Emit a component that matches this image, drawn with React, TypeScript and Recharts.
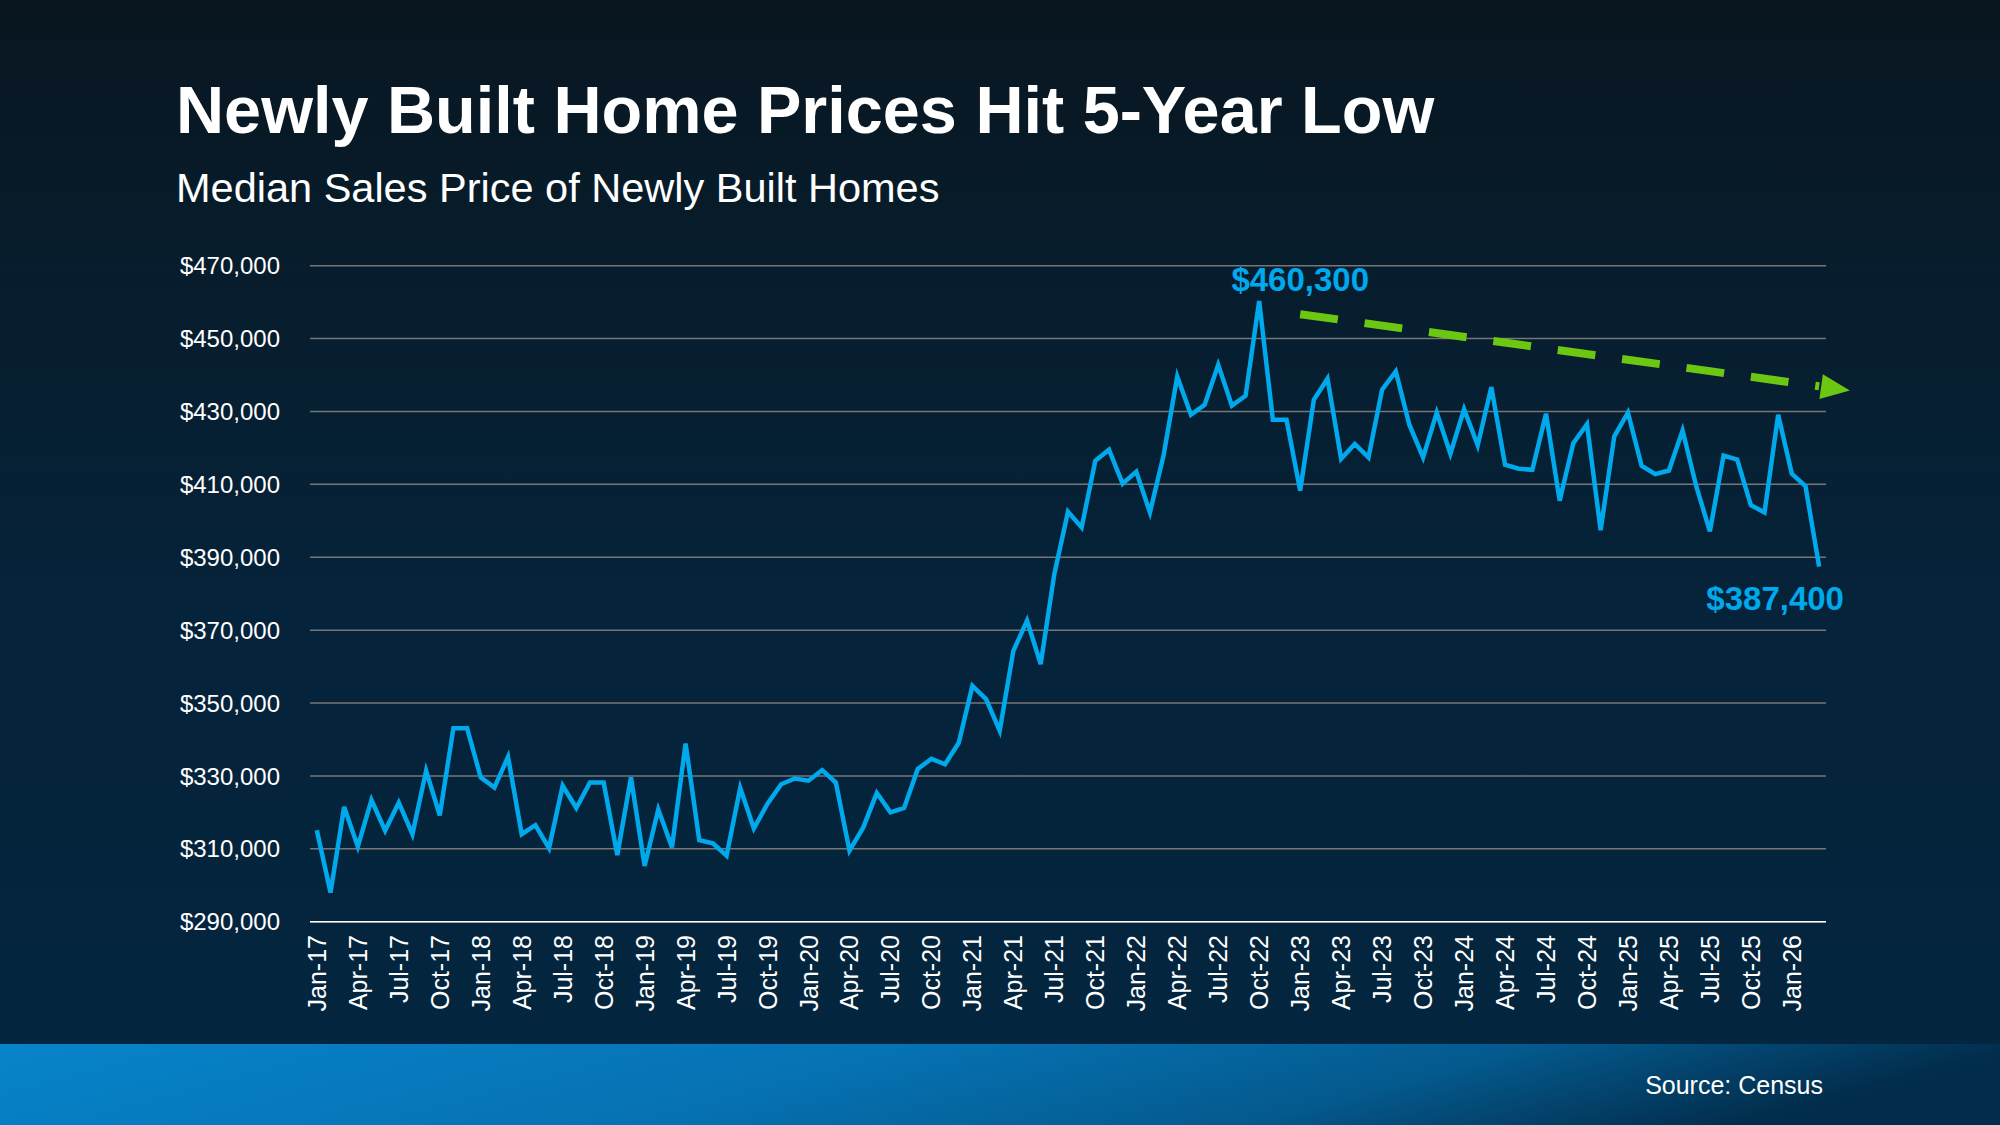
import React from 'react';
import { LineChart, Line, XAxis, YAxis, CartesianGrid, ReferenceDot, ReferenceLine } from 'recharts';

const months2017 = ['Jan-17','Feb-17','Mar-17','Apr-17','May-17','Jun-17','Jul-17','Aug-17','Sep-17','Oct-17','Nov-17','Dec-17'];
const months2018 = ['Jan-18','Feb-18','Mar-18','Apr-18','May-18','Jun-18','Jul-18','Aug-18','Sep-18','Oct-18','Nov-18','Dec-18'];
const months2019 = ['Jan-19','Feb-19','Mar-19','Apr-19','May-19','Jun-19','Jul-19','Aug-19','Sep-19','Oct-19','Nov-19','Dec-19'];
const months2020 = ['Jan-20','Feb-20','Mar-20','Apr-20','May-20','Jun-20','Jul-20','Aug-20','Sep-20','Oct-20','Nov-20','Dec-20'];
const months2021 = ['Jan-21','Feb-21','Mar-21','Apr-21','May-21','Jun-21','Jul-21','Aug-21','Sep-21','Oct-21','Nov-21','Dec-21'];
const months2022 = ['Jan-22','Feb-22','Mar-22','Apr-22','May-22','Jun-22','Jul-22','Aug-22','Sep-22','Oct-22','Nov-22','Dec-22'];
const months2023 = ['Jan-23','Feb-23','Mar-23','Apr-23','May-23','Jun-23','Jul-23','Aug-23','Sep-23','Oct-23','Nov-23','Dec-23'];
const months2024 = ['Jan-24','Feb-24','Mar-24','Apr-24','May-24','Jun-24','Jul-24','Aug-24','Sep-24','Oct-24','Nov-24','Dec-24'];
const months2025 = ['Jan-25','Feb-25','Mar-25','Apr-25','May-25','Jun-25','Jul-25','Aug-25','Sep-25','Oct-25','Nov-25','Dec-25'];
const months2026 = ['Jan-26','Feb-26','Mar-26'];

const prices2017 = [315100, 298000, 321500, 310600, 323400, 315000, 322700, 314000, 331400, 319200, 343100, 343100];
const prices2018 = [329600, 326800, 335200, 314000, 316500, 310200, 327300, 321200, 328200, 328200, 308300, 329600];
const prices2019 = [305300, 320800, 310400, 338900, 312400, 311500, 308100, 326700, 315600, 322400, 327700, 329300];
const prices2020 = [328700, 331600, 328200, 309500, 315800, 325300, 320000, 321200, 331900, 334700, 333200, 339100];
const prices2021 = [354700, 351100, 342400, 364300, 372600, 360700, 385400, 402500, 398200, 416500, 419500, 410200];
const prices2022 = [413500, 402300, 418000, 439600, 429100, 431800, 442800, 431600, 434300, 460300, 427700, 427700];
const prices2023 = [408300, 433200, 439000, 417000, 421100, 417400, 436000, 441000, 426300, 417400, 429700, 418400];
const prices2024 = [430600, 420700, 436700, 415400, 414300, 414000, 429400, 405500, 421300, 426500, 397400, 423200];
const prices2025 = [429700, 415100, 412800, 413800, 424800, 409500, 397100, 417900, 416800, 404300, 402300, 429100];
const prices2026 = [412900, 409500, 387400];

const yTicks = [290000, 310000, 330000, 350000, 370000, 390000, 410000, 430000, 450000, 470000];

const peakLabel = { month: 'Oct-22', value: 460300, text: '$460,300' };
const lastLabel = { month: 'Mar-26', value: 387400, text: '$387,400' };
const trendStart = { month: 'Jan-23', value: 456700 };
const trendEnd = { month: 'Mar-26', value: 436900 };

const months = [
  ...months2017, ...months2018, ...months2019, ...months2020, ...months2021,
  ...months2022, ...months2023, ...months2024, ...months2025, ...months2026,
];
const prices = [
  ...prices2017, ...prices2018, ...prices2019, ...prices2020, ...prices2021,
  ...prices2022, ...prices2023, ...prices2024, ...prices2025, ...prices2026,
];
const data = months.map((m, i) => ({ month: m, price: prices[i] }));

const FONT = '"Liberation Sans", Arial, Helvetica, sans-serif';
const LINE_BLUE = '#00A9EC';
const GREEN = '#6CC712';

const fmt = (v: number) => '$' + v.toLocaleString('en-US');

const YTick = (props: any) => {
  const { y, payload } = props;
  return (
    <text x={280} y={y} dy="0.36em" textAnchor="end" fill="#ffffff" fontSize={24} fontFamily={FONT}>
      {fmt(payload.value)}
    </text>
  );
};

const XTick = (props: any) => {
  const { x, payload } = props;
  const ty = 935;
  return (
    <text x={x} y={ty} dy="0.36em" textAnchor="end" fill="#ffffff" fontSize={25} fontFamily={FONT}
      transform={`rotate(-90, ${x}, ${ty})`}>
      {payload.value}
    </text>
  );
};

const ArrowShape = (props: any) => {
  const { x1, y1, x2, y2 } = props;
  const dx = x2 - x1;
  const dy = y2 - y1;
  const len = Math.sqrt(dx * dx + dy * dy) || 1;
  const ux = dx / len;
  const uy = dy / len;
  const nx = -uy;
  const ny = ux;
  const bx = x2 + ux * 2;
  const by = y2 + uy * 2;
  const tx = bx + ux * 29;
  const ty = by + uy * 29;
  const hw = 12.5;
  const pts = `${bx + nx * hw},${by + ny * hw} ${tx},${ty} ${bx - nx * hw},${by - ny * hw}`;
  return (
    <g>
      <line x1={x1} y1={y1} x2={x2} y2={y2} stroke={GREEN} strokeWidth={8} strokeDasharray="38 27" />
      <polygon points={pts} fill={GREEN} />
    </g>
  );
};

const PeakLabel = (props: any) => {
  const vb = props.viewBox || {};
  const cx = vb.x + (vb.width || 0) / 2;
  const cy = vb.y + (vb.height || 0) / 2;
  return (
    <text x={cx + 41} y={cy - 10} textAnchor="middle" fill={LINE_BLUE} fontSize={33} fontWeight={700} fontFamily={FONT}>
      {peakLabel.text}
    </text>
  );
};

const LastLabel = (props: any) => {
  const vb = props.viewBox || {};
  const cx = vb.x + (vb.width || 0) / 2;
  const cy = vb.y + (vb.height || 0) / 2;
  return (
    <text x={cx - 44} y={cy + 43} textAnchor="middle" fill={LINE_BLUE} fontSize={33} fontWeight={700} fontFamily={FONT}>
      {lastLabel.text}
    </text>
  );
};

export default function App() {
  return (
    <div
      style={{
        position: 'absolute',
        left: 0,
        top: 0,
        width: 2000,
        height: 1125,
        overflow: 'hidden',
        background: 'linear-gradient(180deg, #091620 0%, #071d2d 25%, #05233a 55%, #042640 100%)',
        fontFamily: FONT,
      }}
    >
      <svg width={2000} height={1125} style={{ position: 'absolute', left: 0, top: 0 }}>
        <defs>
          <linearGradient id="footerGrad" x1="0" y1="0" x2="1" y2="0.15">
            <stop offset="0%" stopColor="#0784ca" />
            <stop offset="45%" stopColor="#0672b3" />
            <stop offset="75%" stopColor="#045a8e" />
            <stop offset="100%" stopColor="#022c4b" />
          </linearGradient>
        </defs>
        <rect x={0} y={1044} width={2000} height={81} fill="url(#footerGrad)" />
        <text x={176} y={133} fill="#ffffff" fontSize={66.6} fontWeight={700} fontFamily={FONT}>
          Newly Built Home Prices Hit 5-Year Low
        </text>
        <text x={176} y={202} fill="#ffffff" fontSize={41.5} fontFamily={FONT}>
          Median Sales Price of Newly Built Homes
        </text>
        <text x={1823} y={1094} fill="#ffffff" fontSize={25} textAnchor="end" fontFamily={FONT}>
          Source: Census
        </text>
      </svg>
      <div style={{ position: 'absolute', left: 0, top: 0 }}>
        <LineChart
          width={2000}
          height={1125}
          data={data}
          margin={{ top: 265.7, right: 174, bottom: 0, left: 0 }}
        >
          <CartesianGrid vertical={false} stroke="#767676" strokeWidth={1.5} />
          <XAxis
            dataKey="month"
            interval={2}
            height={203.3}
            padding={{ left: 6.85, right: 6.85 }}
            tickLine={false}
            axisLine={{ stroke: '#ffffff', strokeWidth: 1.6 }}
            tick={<XTick />}
          />
          <YAxis
            type="number"
            width={310}
            domain={[290000, 470000]}
            ticks={yTicks}
            interval={0}
            axisLine={false}
            tickLine={false}
            tick={<YTick />}
          />
          <ReferenceLine
            segment={[
              { x: trendStart.month, y: trendStart.value },
              { x: trendEnd.month, y: trendEnd.value },
            ]}
            ifOverflow="visible"
            shape={(p: any) => <ArrowShape {...p} />}
          />
          <Line
            type="linear"
            dataKey="price"
            stroke={LINE_BLUE}
            strokeWidth={4.5}
            dot={false}
            activeDot={false}
            isAnimationActive={false}
          />
          <ReferenceDot x={peakLabel.month} y={peakLabel.value} r={0} fill="none" stroke="none" ifOverflow="visible" label={<PeakLabel />} />
          <ReferenceDot x={lastLabel.month} y={lastLabel.value} r={0} fill="none" stroke="none" ifOverflow="visible" label={<LastLabel />} />
        </LineChart>
      </div>
    </div>
  );
}
